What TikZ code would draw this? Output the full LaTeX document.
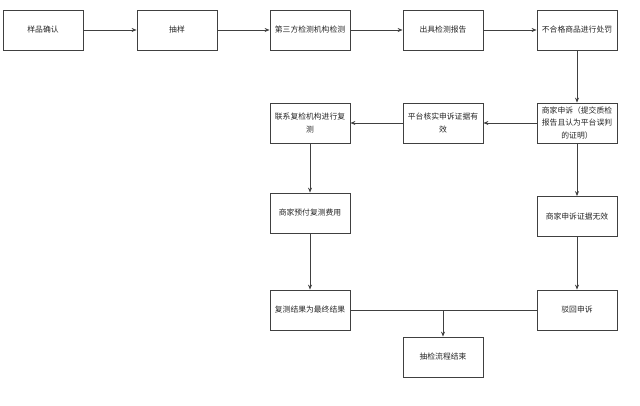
\documentclass[tikz,border=0pt]{standalone}
\usepackage{fontspec}
\newfontfamily\cjk{Noto Sans CJK SC}
\usetikzlibrary{arrows.meta}
\begin{document}
\begin{tikzpicture}[x=1pt,y=-1pt,
  box/.style={draw=black!75, line width=0.8pt, minimum width=80pt, minimum height=40pt, inner sep=1pt, align=center, font=\cjk\fontsize{7.8}{12.5}\selectfont, text=black!85},
  arr/.style={draw=black!75, line width=0.8pt, -{Stealth[length=5pt,width=4pt]}},
  ln/.style={draw=black!75, line width=0.8pt}]
\useasboundingbox (0,0) rectangle (640,406);
\node[box] (a) at (43,30) {样品确认};
\node[box] (b) at (177,30) {抽样};
\node[box] (c) at (310,30) {第三方检测机构检测};
\node[box] (d) at (443,30) {出具检测报告};
\node[box] (e) at (577,30) {不合格商品进行处罚};
\node[box] (f) at (577,123) {商家申诉（提交质检\\报告且认为平台误判\\的证明）};
\node[box] (g) at (443,123) {平台核实申诉证据有\\效};
\node[box] (h) at (310,123) {联系复检机构进行复\\测};
\node[box] (i) at (310,213) {商家预付复测费用};
\node[box] (j) at (577,216.5) {商家申诉证据无效};
\node[box] (k) at (310,310) {复测结果为最终结果};
\node[box] (l) at (577,310) {驳回申诉};
\node[box] (m) at (443,357) {抽检流程结束};
\coordinate (t) at (m.north |- k.east);
\draw[arr] (a) -- (b);
\draw[arr] (b) -- (c);
\draw[arr] (c) -- (d);
\draw[arr] (d) -- (e);
\draw[arr] (e) -- (f);
\draw[arr] (f) -- (g);
\draw[arr] (g) -- (h);
\draw[arr] (h) -- (i);
\draw[arr] (i) -- (k);
\draw[arr] (f) -- (j);
\draw[arr] (j) -- (l);
\draw[ln] (k.east) -- (l.west);
\draw[arr] (t) -- (m.north);
\end{tikzpicture}
\end{document}
